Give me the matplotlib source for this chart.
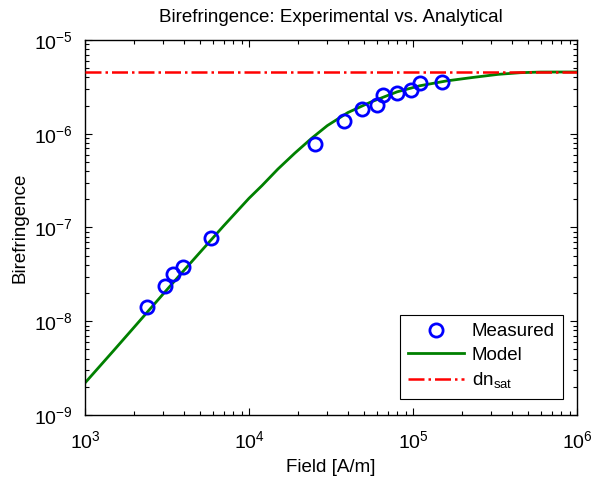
import matplotlib
matplotlib.use('Agg')
import matplotlib.pyplot as plt
from matplotlib.ticker import LogLocator, NullFormatter

plt.rcParams['font.family'] = ['Liberation Sans', 'DejaVu Sans']
plt.rcParams['mathtext.fontset'] = 'custom'
plt.rcParams['mathtext.rm'] = 'Liberation Sans'
plt.rcParams['mathtext.it'] = 'Liberation Sans'
plt.rcParams['mathtext.default'] = 'regular'

# measured points
field_meas = [2390, 3080, 3440, 3960, 5860, 25200, 37900, 48900, 60300,
              65600, 79800, 97300, 110000, 150000]
dn_meas = [1.42e-8, 2.38e-8, 3.19e-8, 3.79e-8, 7.73e-8, 7.78e-7, 1.37e-6,
           1.84e-6, 2.03e-6, 2.59e-6, 2.72e-6, 2.93e-6, 3.47e-6, 3.56e-6]

# model curve
field_model = [1e3, 1.5e3, 2e3, 3e3, 4e3, 5e3, 7e3, 1e4, 1.2e4, 1.5e4,
               1.9e4, 2.4e4, 3e4, 4e4, 5.5e4, 8e4, 1.1e5, 1.6e5, 2.3e5,
               3.3e5, 4.5e5, 6e5, 1e6]
dn_model = [2.2e-9, 4.9e-9, 8.7e-9, 1.96e-8, 3.47e-8, 5.38e-8, 1.04e-7,
            2.05e-7, 2.8e-7, 4.2e-7, 6.2e-7, 8.9e-7, 1.22e-6, 1.68e-6,
            2.17e-6, 2.8e-6, 3.25e-6, 3.66e-6, 3.98e-6, 4.3e-6, 4.48e-6,
            4.55e-6, 4.56e-6]

dn_sat = 4.56e-6

fig = plt.figure(figsize=(6, 4.86), dpi=100)
ax = fig.add_axes([0.1417, 0.1461, 0.82, 0.7716])

ax.plot(field_meas, dn_meas, 'o', color='blue', mfc='none', ms=9.5, mew=2,
        label='Measured', zorder=3)
ax.plot(field_model, dn_model, '-', color='#008000', lw=2, label='Model', zorder=2)
ax.plot([1e3, 1e6], [dn_sat, dn_sat], '-.', color='red', lw=1.8,
        label='dn$_{sat}$', zorder=4)

ax.set_xscale('log')
ax.set_yscale('log')
ax.set_xlim(1e3, 1e6)
ax.set_ylim(1e-9, 1e-5)

ax.xaxis.set_major_locator(LogLocator(base=10, numticks=10))
ax.yaxis.set_major_locator(LogLocator(base=10, numticks=10))
ax.xaxis.set_minor_locator(LogLocator(base=10, subs=range(2, 10), numticks=20))
ax.yaxis.set_minor_locator(LogLocator(base=10, subs=range(2, 10), numticks=20))
ax.xaxis.set_minor_formatter(NullFormatter())
ax.yaxis.set_minor_formatter(NullFormatter())

ax.tick_params(which='both', direction='in', top=True, right=True,
               labelsize=14, width=0.8)
ax.tick_params(which='major', length=5)
ax.tick_params(axis='x', which='major', pad=11)
ax.tick_params(axis='y', which='major', pad=9)
ax.tick_params(which='minor', length=3)
for s in ax.spines.values():
    s.set_linewidth(1.0)

ax.set_title('Birefringence: Experimental vs. Analytical', fontsize=13.5, pad=13)
ax.set_xlabel('Field [A/m]', fontsize=13.5, labelpad=5)
ax.set_ylabel('Birefringence', fontsize=13.5, labelpad=4)

leg = ax.legend(loc='lower right', fontsize=13.5, fancybox=False,
                edgecolor='black', framealpha=1, handlelength=3.0,
                handletextpad=0.4, borderpad=0.45, labelspacing=0.35,
                borderaxespad=0, bbox_to_anchor=(0.972, 0.043))
leg.get_frame().set_linewidth(0.8)

fig.savefig('out.png', dpi=100)
